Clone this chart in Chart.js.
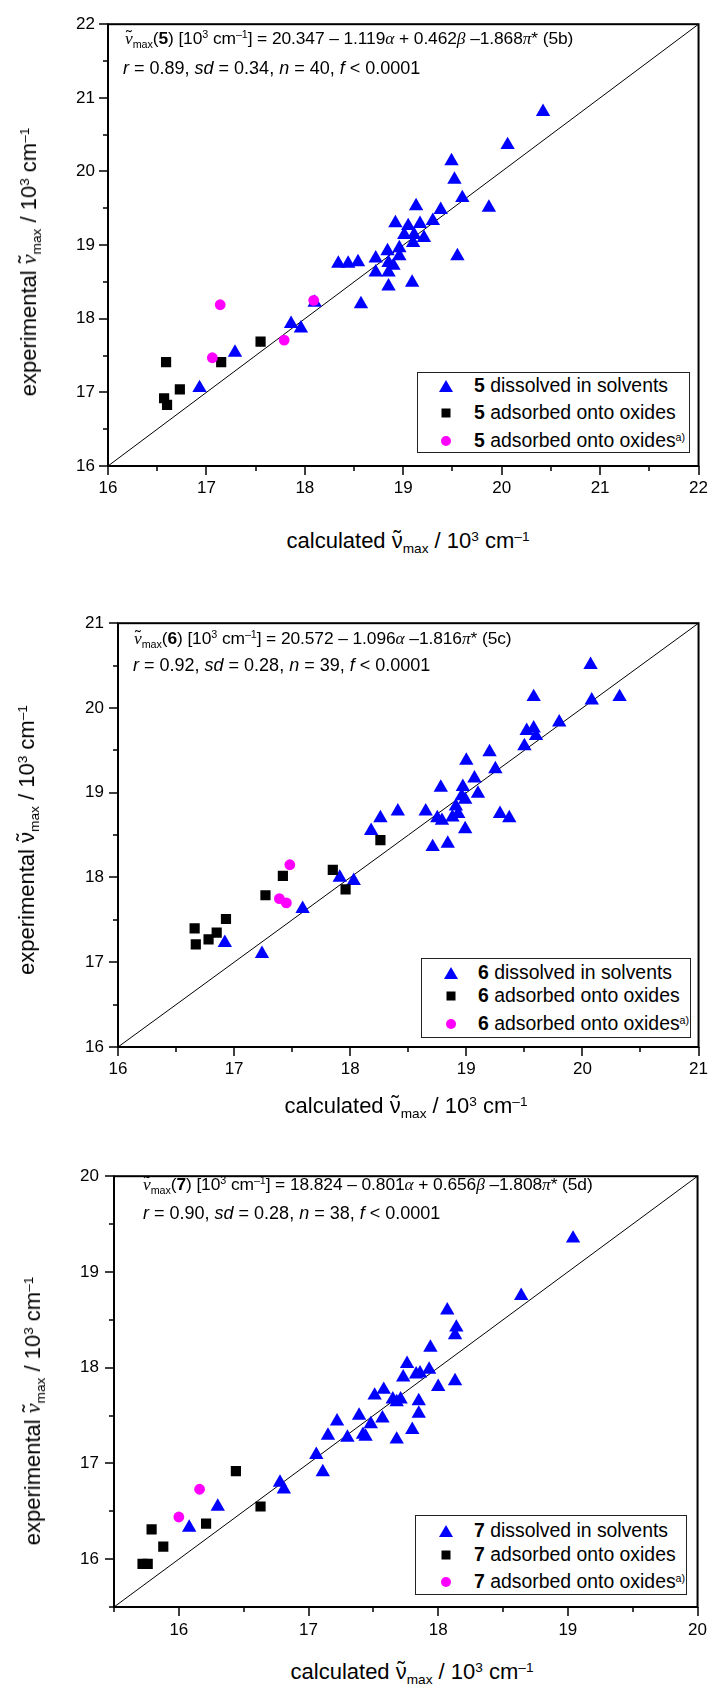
<!DOCTYPE html>
<html>
<head>
<meta charset="utf-8">
<title>experimental vs calculated ν̃max</title>
<script src="https://cdn.jsdelivr.net/npm/chart.js@4.4.1/dist/chart.umd.min.js"></script>
<style>
  body { margin: 0; width: 720px; height: 1688px; position: relative; background: #fff; overflow: hidden;
         font-family: "Liberation Sans", Arial, sans-serif; color: #000; }
  canvas { position: absolute; left: 0; }
  .txt { position: absolute; white-space: nowrap; line-height: 1; transform: translateY(-50%); }
  .eq { font-size: 18px; }
  .eq1 { font-size: 17.4px; letter-spacing: -0.1px; }
  .gr { font-family: "Liberation Serif", "DejaVu Serif", serif; font-style: italic; }
  .sub { font-size: 62%; position: relative; top: 0.4em; }
  .sup { font-size: 62%; position: relative; top: -0.55em; }
  .nu { position: relative; display: inline-block; }
  .nu .tl { position: absolute; left: 0; right: 0; top: -0.1em; text-align: center; font-family: "Liberation Sans", Arial, sans-serif; font-style: normal; }
  .xt { font-size: 22px; transform: translate(-50%, -50%); }
  .yt { font-size: 22px; transform: translate(-50%, -50%) rotate(-90deg); }
  .leg { position: absolute; border: 1px solid #222; box-sizing: border-box; background: #fff; }
  .leg .row { position: absolute; font-size: 19.4px; white-space: nowrap; line-height: 1; transform: translateY(-50%); }
  .leg .sup { font-size: 55%; }
  .mk { position: absolute; transform: translate(-50%, -50%); }
  .tri { width: 0; height: 0; border-left: 7px solid transparent; border-right: 7px solid transparent; border-bottom: 12px solid #0000ff; }
  .sq { width: 9px; height: 9px; background: #000; }
  .ci { width: 10px; height: 10px; border-radius: 50%; background: #ff00ff; }
</style>
</head>
<body>
<canvas id="c5"></canvas>
<canvas id="c6"></canvas>
<canvas id="c7"></canvas>

<!-- equations -->
<div class="txt eq eq1" style="left:125px;top:39px"><span class="nu gr">ν<span class="tl">˜</span></span><span class="sub">max</span>(<b>5</b>) [10<span class="sup">3</span> cm<span class="sup">–1</span>] = 20.347 – 1.119<span class="gr">α</span> + 0.462<span class="gr">β</span> –1.868<span class="gr">π</span>* (5b)</div>
<div class="txt eq" style="left:123px;top:68px"><i>r</i> = 0.89, <i>sd</i> = 0.34, <i>n</i> = 40, <i>f</i> &lt; 0.0001</div>

<div class="txt eq eq1" style="left:134px;top:639px"><span class="nu gr">ν<span class="tl">˜</span></span><span class="sub">max</span>(<b>6</b>) [10<span class="sup">3</span> cm<span class="sup">–1</span>] = 20.572 – 1.096<span class="gr">α</span> –1.816<span class="gr">π</span>* (5c)</div>
<div class="txt eq" style="left:133px;top:665px"><i>r</i> = 0.92, <i>sd</i> = 0.28, <i>n</i> = 39, <i>f</i> &lt; 0.0001</div>

<div class="txt eq eq1" style="left:143px;top:1185px"><span class="nu gr">ν<span class="tl">˜</span></span><span class="sub">max</span>(<b>7</b>) [10<span class="sup">3</span> cm<span class="sup">–1</span>] = 18.824 – 0.801<span class="gr">α</span> + 0.656<span class="gr">β</span> –1.808<span class="gr">π</span>* (5d)</div>
<div class="txt eq" style="left:143px;top:1213px"><i>r</i> = 0.90, <i>sd</i> = 0.28, <i>n</i> = 38, <i>f</i> &lt; 0.0001</div>

<!-- axis titles -->
<div class="txt xt" style="left:408px;top:541px">calculated <span class="nu">ν<span class="tl">˜</span></span><span class="sub">max</span> / 10<span class="sup">3</span> cm<span class="sup">–1</span></div>
<div class="txt xt" style="left:406px;top:1106px">calculated <span class="nu">ν<span class="tl">˜</span></span><span class="sub">max</span> / 10<span class="sup">3</span> cm<span class="sup">–1</span></div>
<div class="txt xt" style="left:412px;top:1672px">calculated <span class="nu">ν<span class="tl">˜</span></span><span class="sub">max</span> / 10<span class="sup">3</span> cm<span class="sup">–1</span></div>

<div class="txt yt" style="left:29px;top:262px">experimental <span class="nu gr">ν<span class="tl">˜</span></span><span class="sub">max</span> / 10<span class="sup">3</span> cm<span class="sup">–1</span></div>
<div class="txt yt" style="left:27px;top:840px">experimental <span class="nu">ν<span class="tl">˜</span></span><span class="sub">max</span> / 10<span class="sup">3</span> cm<span class="sup">–1</span></div>
<div class="txt yt" style="left:33px;top:1411px">experimental <span class="nu gr">ν<span class="tl">˜</span></span><span class="sub">max</span> / 10<span class="sup">3</span> cm<span class="sup">–1</span></div>

<script>
// series names (legend), same for every compound
const seriesNames = ["dissolved in solvents", "adsorbed onto oxides", "adsorbed onto oxides"];

// compound 5
const calc5Sol = [20.42,20.06,19.49,19.52,19.60,19.87,19.13,19.38,19.30,18.92,19.05,19.17,19.01,19.11,19.21,19.10,18.96,18.96,19.55,18.84,18.72,18.34,18.44,18.54,18.85,18.90,18.72,18.85,18.85,19.09,18.57,18.10,17.86,17.96,17.29,16.93];
const exp5Sol  = [20.81,20.36,20.14,19.89,19.64,19.51,19.53,19.48,19.33,19.30,19.26,19.29,19.14,19.14,19.10,19.03,18.96,18.85,18.85,18.92,18.82,18.75,18.75,18.77,18.76,18.72,18.63,18.63,18.44,18.49,18.20,18.22,17.93,17.87,17.54,17.06];
const calc5Ads = [16.59,17.15,16.73,17.55,16.57,16.60];
const exp5Ads  = [17.41,17.41,17.04,17.69,16.92,16.83];
const calc5AdsA = [17.14,18.09,17.79,17.06];
const exp5AdsA  = [18.19,18.25,17.71,17.47];
const range5 = [16, 22];
const ticks5 = [16, 17, 18, 19, 20, 21, 22];

// compound 6
const calc6Sol = [20.07,19.58,20.08,20.32,19.80,19.52,19.58,19.60,19.50,19.20,19.00,19.25,19.07,18.97,19.10,18.96,18.99,18.78,18.91,18.93,18.88,18.65,18.75,18.79,19.29,19.37,18.99,18.84,18.71,18.41,18.26,18.18,17.91,18.03,17.59,16.92,17.24];
const exp6Sol  = [20.51,20.13,20.09,20.13,19.83,19.73,19.76,19.67,19.55,19.48,19.38,19.28,19.17,19.07,18.99,18.96,18.92,19.06,18.84,18.75,18.71,18.78,18.70,18.67,18.75,18.70,18.57,18.40,18.36,18.78,18.70,18.55,18.00,17.96,17.63,17.23,17.10];
const calc6Ads = [18.26,17.85,17.96,17.42,17.27,16.93,16.66,16.67,16.78,16.85];
const exp6Ads  = [18.44,18.09,17.86,18.02,17.79,17.51,17.40,17.21,17.27,17.35];
const calc6AdsA = [17.48,17.39,17.45];
const exp6AdsA  = [18.15,17.75,17.70];
const range6 = [16, 21];
const ticks6 = [16, 17, 18, 19, 20, 21];

// compound 7
const calc7Sol = [19.04,18.64,18.07,18.14,18.13,17.94,17.76,17.93,17.73,17.83,17.86,18.00,18.13,17.58,17.51,17.65,17.71,17.68,17.85,17.85,17.39,17.22,17.57,17.48,17.15,17.30,17.42,17.44,17.80,17.68,17.06,17.11,16.78,16.81,16.30,16.08];
const exp7Sol  = [19.35,18.75,18.60,18.42,18.34,18.21,18.04,17.98,17.90,17.93,17.94,17.80,17.86,17.77,17.71,17.67,17.67,17.64,17.65,17.52,17.50,17.44,17.47,17.41,17.29,17.27,17.30,17.28,17.35,17.25,17.09,16.91,16.80,16.73,16.55,16.33];
const calc7Ads = [16.44,16.63,16.21,15.79,15.88,15.72,15.76];
const exp7Ads  = [16.92,16.55,16.37,16.31,16.13,15.95,15.95];
const calc7AdsA = [16.16,16.00];
const exp7AdsA  = [16.73,16.44];
const range7 = [15.5, 20];
const ticks7 = [16, 17, 18, 19, 20];

const pts = (xs, ys) => xs.map((x, i) => ({ x: x, y: ys[i] }));
const isWhole = v => Math.abs(v - Math.round(v)) < 1e-6;

// box around the plot + major/minor tick marks
const frame = {
  id: 'frame',
  afterDraw(chart) {
    const { ctx, chartArea: a, scales: { x, y } } = chart;
    ctx.save();
    ctx.strokeStyle = '#000';
    ctx.lineWidth = 2;
    ctx.strokeRect(a.left, a.top, a.right - a.left, a.bottom - a.top);
    ctx.lineWidth = 1.5;
    ctx.beginPath();
    x.ticks.forEach(t => {
      const px = Math.round(x.getPixelForValue(t.value));
      ctx.moveTo(px, a.bottom);
      ctx.lineTo(px, a.bottom + (isWhole(t.value) ? 9 : 5));
    });
    y.ticks.forEach(t => {
      const py = Math.round(y.getPixelForValue(t.value));
      ctx.moveTo(a.left, py);
      ctx.lineTo(a.left - (isWhole(t.value) ? 9 : 5), py);
    });
    ctx.stroke();
    ctx.restore();
  }
};

function axis(range, labels, extra) {
  return Object.assign({
    type: 'linear',
    min: range[0],
    max: range[1],
    border: { display: false },
    grid: { display: true, drawOnChartArea: false, drawTicks: false },
    ticks: {
      stepSize: 0.5,
      autoSkip: false,
      maxRotation: 0,
      color: '#000',
      font: { family: '"Liberation Sans", Arial, sans-serif', size: 17 },
      callback: v => labels.some(l => Math.abs(l - v) < 1e-6) ? String(Math.round(v)) : ''
    }
  }, extra);
}

function makeChart(id, L, sol, ads, adsA, range, labels) {
  const canvas = document.getElementById(id);
  const xH = 48;
  canvas.width = 720;
  canvas.height = L.bottom - L.top + 20 + xH;
  canvas.style.top = (L.top - 20) + 'px';

  const xAxis = axis(range, labels, { afterFit: s => { s.height = xH; } });
  xAxis.ticks.padding = L.xPad;
  const yAxis = axis(range, labels, { afterFit: s => { s.width = L.left; } });
  yAxis.ticks.padding = L.yPad;

  new Chart(canvas, {
    type: 'scatter',
    data: {
      datasets: [
        { label: 'fit', type: 'line', data: [{ x: range[0], y: range[0] }, { x: range[1], y: range[1] }],
          borderColor: '#000', borderWidth: 1, pointRadius: 0, fill: false, order: 4 },
        { label: seriesNames[0], data: pts(sol[0], sol[1]), pointStyle: 'triangle', pointRadius: 8.3,
          pointBackgroundColor: '#0000ff', pointBorderColor: '#0000ff', pointBorderWidth: 0, order: 3 },
        { label: seriesNames[1], data: pts(ads[0], ads[1]), pointStyle: 'rect', pointRadius: 7.2,
          pointBackgroundColor: '#000', pointBorderColor: '#000', pointBorderWidth: 0, order: 2 },
        { label: seriesNames[2], data: pts(adsA[0], adsA[1]), pointStyle: 'circle', pointRadius: 5.4,
          pointBackgroundColor: '#ff00ff', pointBorderColor: '#ff00ff', pointBorderWidth: 0, order: 1 }
      ]
    },
    options: {
      responsive: false,
      animation: false,
      devicePixelRatio: 1,
      layout: { padding: { top: 20, right: 720 - L.right, left: 0, bottom: 0 } },
      plugins: { legend: { display: false }, tooltip: { enabled: false } },
      scales: { x: xAxis, y: yAxis }
    },
    plugins: [frame]
  });
}

function makeLegend(num, box) {
  const div = document.createElement('div');
  div.className = 'leg';
  div.style.left = box.left + 'px';
  div.style.top = box.top + 'px';
  div.style.width = box.w + 'px';
  div.style.height = box.h + 'px';
  const marks = ['tri', 'sq', 'ci'];
  seriesNames.forEach((name, i) => {
    const mk = document.createElement('div');
    mk.className = 'mk ' + marks[i];
    mk.style.left = box.mk + 'px';
    mk.style.top = box.rows[i] + 'px';
    div.appendChild(mk);
    const row = document.createElement('div');
    row.className = 'row';
    row.style.left = box.tx + 'px';
    row.style.top = box.rows[i] + 'px';
    row.innerHTML = '<b>' + num + '</b> ' + name + (i === 2 ? '<span class="sup">a)</span>' : '');
    div.appendChild(row);
  });
  document.body.appendChild(div);
}

makeChart('c5', { left: 108, right: 707, top: 21, bottom: 466, xPad: 12, yPad: 13 },
  [calc5Sol, exp5Sol], [calc5Ads, exp5Ads], [calc5AdsA, exp5AdsA], range5, ticks5);
makeChart('c6', { left: 118, right: 707, top: 619, bottom: 1047, xPad: 12, yPad: 14 },
  [calc6Sol, exp6Sol], [calc6Ads, exp6Ads], [calc6AdsA, exp6AdsA], range6, ticks6);
makeChart('c7', { left: 114, right: 703, top: 1171, bottom: 1607, xPad: 13, yPad: 15 },
  [calc7Sol, exp7Sol], [calc7Ads, exp7Ads], [calc7AdsA, exp7AdsA], range7, ticks7);

makeLegend('5', { left: 417, top: 372, w: 273, h: 81, rows: [13, 40, 68], mk: 28, tx: 56 });
makeLegend('6', { left: 421, top: 958, w: 270, h: 80, rows: [14, 37, 65], mk: 29, tx: 56 });
makeLegend('7', { left: 415, top: 1515, w: 272, h: 80, rows: [15, 39, 66], mk: 30, tx: 58 });
</script>
</body>
</html>
